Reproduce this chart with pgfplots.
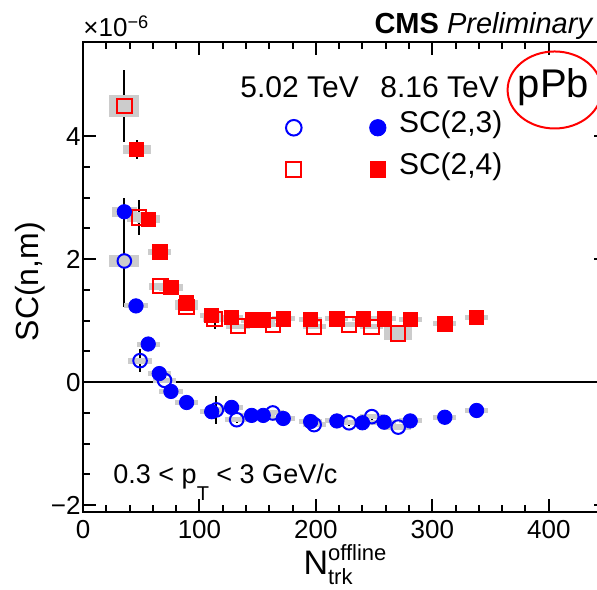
\documentclass[border=0pt]{standalone}
\usepackage{pgfplots}
\pgfplotsset{compat=1.18}
\usepackage{pgfplotstable}
\usepackage{fontspec}
\setmainfont{Liberation Sans}

% 5.02 TeV SC(2,3)
\pgfplotstableread{
x     y     ey    sx  sy
35.5  1.97  0.75  13  0.10
49    0.35  0.19  10  0.05
70    0.03  0.05  10  0.04
114.5 -0.45 0.23  10  0.04
132   -0.61 0.05  10  0.04
163   -0.50 0.05  10  0.04
198.5 -0.69 0.05  10  0.04
228.5 -0.66 0.05  10  0.04
248   -0.56 0.05  10  0.04
270.7 -0.73 0.05  11  0.05
}\openblue
% 8.16 TeV SC(2,3)
\pgfplotstableread{
x     y     ey    sx  sy
35.5  2.77  0.23  11  0.08
45.5  1.24  0.03  10  0.04
56    0.62  0.03  10  0.04
65.5  0.14  0.03  10  0.04
75.5  -0.15 0.03  10  0.04
89    -0.33 0.03  10  0.04
110.5 -0.48 0.03  10  0.04
127.6 -0.41 0.03  10  0.04
144.8 -0.54 0.03  10  0.04
154.8 -0.54 0.03  10  0.04
172   -0.59 0.03  10  0.04
195.5 -0.64 0.03  10  0.04
218   -0.63 0.03  10  0.04
240   -0.66 0.03  10  0.04
258.6 -0.65 0.03  10  0.04
281   -0.63 0.03  10  0.04
310.7 -0.57 0.03  10  0.04
338   -0.46 0.03  10  0.04
}\fullblue
% 5.02 TeV SC(2,4)
\pgfplotstableread{
x     y     ey    sx  sy
35.5  4.49  0.58  13  0.18
48    2.68  0.28  10  0.08
66.7  1.56  0.05  10  0.06
89    1.22  0.05  10  0.05
113   1.03  0.17  10  0.05
133   0.91  0.04  10  0.04
163   0.93  0.04  10  0.04
198.5 0.90  0.04  10  0.04
228.6 0.94  0.04  10  0.04
247.8 0.90  0.04  10  0.04
270.7 0.79  0.05  12  0.10
}\openred
% 8.16 TeV SC(2,4)
\pgfplotstableread{
x     y     ey    sx  sy
46    3.78  0.15  12  0.07
56    2.65  0.05  10  0.06
66    2.12  0.04  10  0.05
75.5  1.54  0.04  10  0.05
89    1.29  0.04  10  0.04
110.5 1.09  0.04  10  0.04
127.6 1.05  0.04  10  0.04
146   1.01  0.04  10  0.04
155   1.01  0.04  10  0.04
172   1.03  0.04  10  0.04
195.5 1.02  0.04  10  0.04
218   1.03  0.04  10  0.04
240.6 1.03  0.04  10  0.04
258.6 1.03  0.04  10  0.04
281   1.02  0.04  10  0.04
310.7 0.95  0.04  10  0.04
338   1.05  0.04  10  0.04
}\fullred

\pgfdeclareplotmark{sysbox}{%
  \pgfpathrectanglecorners{\pgfpoint{-\sxw pt}{-\syh pt}}{\pgfpoint{\sxw pt}{\syh pt}}%
  \pgfusepathqfill}

\pgfplotsset{
  sys/.style={forget plot, only marks, mark=sysbox, mark options={fill=black!20, draw=none},
    visualization depends on={0.5822*\thisrow{sx} \as \sxw},
    visualization depends on={30.76*\thisrow{sy} \as \syh}},
  stat/.style={forget plot, draw=none, mark=none,
    error bars/.cd, y dir=both, y explicit, error mark=none,
    error bar style={draw=black, line width=1pt}},
}

\begin{document}
\begin{tikzpicture}
\begin{axis}[
  scale only axis, width=262pt, height=235pt,
  xmin=0, xmax=450, ymin=-2.11, ymax=5.53,
  clip=false,
  axis line style={line width=1pt},
  every tick/.style={line width=1pt, black},
  major tick length=6.5pt, minor tick length=3.5pt,
  tick align=inside,
  xtick={0,100,200,300,400}, xticklabels={0,100,200,300,400},
  minor x tick num=4,
  ytick={-2,0,2,4}, yticklabels={−2,0,2,4},
  minor y tick num=3,
  xticklabel style={font=\fontsize{13}{15}\selectfont, inner sep=0pt, yshift=-4pt},
  yticklabel style={font=\fontsize{13}{15}\selectfont, inner sep=0pt, xshift=-1pt},
  legend columns=2,
  legend cell align=left,
  legend style={draw=none, fill=none, inner sep=0pt,
    font=\fontsize{15}{18}\selectfont,
    at={(axis cs:174,4.36)}, anchor=north west,
    nodes={inner sep=2pt, text height=0.72em, text depth=0.22em},
    row sep=7.5pt,
    /tikz/every even column/.append style={column sep=30pt}},
]
\coordinate (O) at (rel axis cs:0,0);
\coordinate (T) at (rel axis cs:0,1);
\draw[line width=1pt] (axis cs:0,0) -- (axis cs:450,0);

% systematic boxes
\addplot[sys] table[x=x,y=y] {\openred};
\addplot[sys] table[x=x,y=y] {\fullred};
\addplot[sys] table[x=x,y=y] {\openblue};
\addplot[sys] table[x=x,y=y] {\fullblue};
% statistical error bars
\addplot[stat] table[x=x,y=y,y error=ey] {\openred};
\addplot[stat] table[x=x,y=y,y error=ey] {\fullred};
\addplot[stat] table[x=x,y=y,y error=ey] {\openblue};
\addplot[stat] table[x=x,y=y,y error=ey] {\fullblue};
% markers
\addplot[forget plot, only marks, mark=square*, mark size=3.6pt, red, mark options={fill=red, draw=red}] table[x=x,y=y] {\fullred};
\addplot[forget plot, only marks, mark=square, mark size=3.6pt, red, mark options={line width=1pt}] table[x=x,y=y] {\openred};
\addplot[forget plot, only marks, mark=*, mark size=3.6pt, blue, mark options={fill=blue, draw=blue}] table[x=x,y=y] {\fullblue};
\addplot[forget plot, only marks, mark=o, mark size=3.4pt, blue, mark options={line width=1pt}] table[x=x,y=y] {\openblue};

% legend
\addlegendimage{only marks, mark=o, mark size=3.9pt, blue, mark options={line width=1pt}}
\addlegendentry{\mbox{}}
\addlegendimage{only marks, mark=*, mark size=4.1pt, blue}
\addlegendentry{\hspace{4.5pt}SC(2,3)}
\addlegendimage{only marks, mark=square, mark size=3.8pt, red, mark options={line width=1pt}}
\addlegendentry{\mbox{}}
\addlegendimage{only marks, mark=square*, mark size=3.9pt, red}
\addlegendentry{\hspace{4.5pt}SC(2,4)}

\node[anchor=base, inner sep=0pt, font=\fontsize{15}{18}\selectfont] at (axis cs:186,4.62) {5.02 TeV};
\node[anchor=base west, inner sep=0pt, font=\fontsize{15}{18}\selectfont] at (axis cs:255,4.62) {8.16 TeV};
\node[anchor=base, inner sep=0pt, font=\fontsize{20}{24}\selectfont] at (axis cs:404,4.63) {pPb};
\draw[red, line width=1pt] (axis cs:405,4.75) ellipse [x radius=23.5pt, y radius=19.25pt];
\node[anchor=base west, inner sep=0pt, font=\fontsize{13.5}{16}\selectfont] at (axis cs:25.8,-1.64)
  {0.3 < p\raisebox{-8.5pt}{\fontsize{10}{12}\selectfont T} < 3 GeV/c};
\node[anchor=base west, inner sep=0pt, yshift=2.5pt, font=\fontsize{13}{16}\selectfont] at (axis description cs:0,1)
  {×10\textsuperscript{−6}};
\node[anchor=base east, inner sep=0pt, yshift=4pt, font=\fontsize{14.5}{17}\selectfont] at (axis description cs:0.975,1)
  {\textbf{CMS} \textit{Preliminary}};
\node[rotate=90, anchor=center, inner sep=0pt, font=\fontsize{16}{19}\selectfont] at (axis description cs:-0.101,0.49)
  {SC(n,m)};
\node[anchor=base, inner sep=0pt, font=\fontsize{17}{20}\selectfont] at (axis description cs:0.5,-0.134)
  {N\rlap{\raisebox{-5pt}{\fontsize{11}{13}\selectfont trk}}\raisebox{7pt}{\fontsize{11}{13}\selectfont offline}};
\end{axis}
\pgfresetboundingbox
\path ([shift={(-41.5pt,-39pt)}]O) rectangle ([shift={(257pt,21pt)}]T);
\end{tikzpicture}
\end{document}
